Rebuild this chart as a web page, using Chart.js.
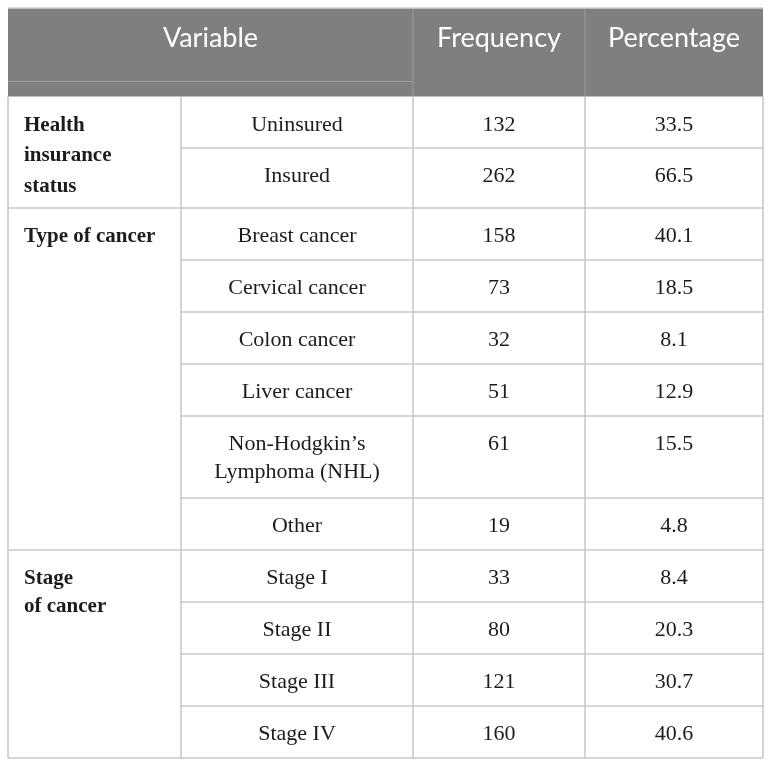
<!DOCTYPE html>
<html lang="en">
<head>
<meta charset="UTF-8">
<title>Patient characteristics</title>
<script src="https://cdn.jsdelivr.net/npm/chart.js@4.4.1/dist/chart.umd.min.js"></script>
<style>
  html, body { margin: 0; padding: 0; background: #fff; }
  #wrap { width: 772px; height: 767px; }
</style>
</head>
<body>
<div id="wrap"><canvas id="table"></canvas></div>
<script>
// table content
const headers = ['Variable', 'Frequency', 'Percentage'];
const groups = [['Health', 'insurance', 'status'], ['Type of cancer'], ['Stage', 'of cancer']];
const groupSizes = [2, 6, 4];
const categories = [
  ['Uninsured'], ['Insured'],
  ['Breast cancer'], ['Cervical cancer'], ['Colon cancer'], ['Liver cancer'],
  ['Non-Hodgkin\u2019s', 'Lymphoma (NHL)'], ['Other'],
  ['Stage I'], ['Stage II'], ['Stage III'], ['Stage IV']
];
const frequency = [132, 262, 158, 73, 32, 51, 61, 19, 33, 80, 121, 160];
const percentage = [33.5, 66.5, 40.1, 18.5, 8.1, 12.9, 15.5, 4.8, 8.4, 20.3, 30.7, 40.6];

// layout in scale units (the scales run 0..772 and 0..767)
const colEdges = [8, 181, 413, 585, 763];
const rowEdges = [8, 96.5, 148, 208, 260, 312, 364, 416, 498, 550, 602, 654, 706, 758];
const headerRule = 81.5;
const groupLineHeight = [30.5, 28, 28];

const tablePlugin = {
  id: 'tablePlugin',
  afterDraw(chart) {
    const ctx = chart.ctx;
    const X = v => chart.scales.x.getPixelForValue(v);
    const Y = v => chart.scales.y.getPixelForValue(v);
    const left = X(colEdges[0]), right = X(colEdges[4]);
    const top = Y(rowEdges[0]), headBottom = Y(rowEdges[1]);
    const bottom = Y(rowEdges[rowEdges.length - 1]);

    ctx.save();
    // header band
    ctx.fillStyle = '#7f7f7f';
    ctx.fillRect(left, top, right - left, headBottom - top);

    const line = (x1, y1, x2, y2, color, w) => {
      ctx.strokeStyle = color;
      ctx.lineWidth = w;
      ctx.beginPath();
      ctx.moveTo(x1, y1);
      ctx.lineTo(x2, y2);
      ctx.stroke();
    };

    // header rules
    line(left, Y(headerRule), X(colEdges[2]), Y(headerRule), '#9c9c9c', 1);
    line(X(colEdges[2]), top, X(colEdges[2]), headBottom, '#9c9c9c', 1);
    line(X(colEdges[3]), top, X(colEdges[3]), headBottom, '#9c9c9c', 1);
    line(left, top, right, top, '#cfcfcf', 1.5);

    // body grid
    const grid = '#c8c8c8';
    let r = 0;
    const groupStarts = [];
    groupSizes.forEach(n => { groupStarts.push(r); r += n; });
    for (let i = 1; i <= categories.length; i++) {
      const y = Y(rowEdges[i + 1]);
      const isGroupEnd = groupStarts.includes(i) || i === categories.length;
      line(isGroupEnd ? left : X(colEdges[1]), y, right, y, grid, 1.6);
    }
    [0, 1, 2, 3, 4].forEach(c => line(X(colEdges[c]), headBottom, X(colEdges[c]), bottom, grid, 1.6));

    // header text
    ctx.fillStyle = '#ffffff';
    ctx.font = '27px Lato';
    ctx.textAlign = 'center';
    ctx.textBaseline = 'alphabetic';
    const hy = Y(47);
    ctx.fillText(headers[0], (X(colEdges[0]) + X(colEdges[2])) / 2, hy);
    ctx.fillText(headers[1], (X(colEdges[2]) + X(colEdges[3])) / 2, hy);
    ctx.fillText(headers[2], (X(colEdges[3]) + X(colEdges[4])) / 2, hy);

    // body text
    ctx.fillStyle = '#1c1c1c';
    ctx.font = '22px "Liberation Serif"';
    categories.forEach((lines, i) => {
      const rowTop = rowEdges[i + 1];
      lines.forEach((t, k) => {
        ctx.fillText(t, (X(colEdges[1]) + X(colEdges[2])) / 2, Y(rowTop + 34 + k * 28));
      });
      ctx.fillText(String(frequency[i]), (X(colEdges[2]) + X(colEdges[3])) / 2, Y(rowTop + 34));
      ctx.fillText(percentage[i].toFixed(1), (X(colEdges[3]) + X(colEdges[4])) / 2, Y(rowTop + 34));
    });

    // group labels
    ctx.font = 'bold 21px "Liberation Serif"';
    ctx.textAlign = 'left';
    groups.forEach((lines, g) => {
      const gTop = rowEdges[groupStarts[g] + 1];
      lines.forEach((t, k) => {
        ctx.fillText(t, X(24), Y(gTop + 34 + k * groupLineHeight[g]));
      });
    });
    ctx.restore();
  }
};

new Chart(document.getElementById('table'), {
  type: 'scatter',
  data: { datasets: [{ data: [], pointRadius: 0 }] },
  options: {
    responsive: true,
    maintainAspectRatio: false,
    animation: false,
    layout: { padding: 0 },
    plugins: { legend: { display: false }, tooltip: { enabled: false } },
    scales: {
      x: { type: 'linear', min: 0, max: 772, display: false },
      y: { type: 'linear', min: 0, max: 767, reverse: true, display: false }
    }
  },
  plugins: [tablePlugin]
});
</script>
</body>
</html>
